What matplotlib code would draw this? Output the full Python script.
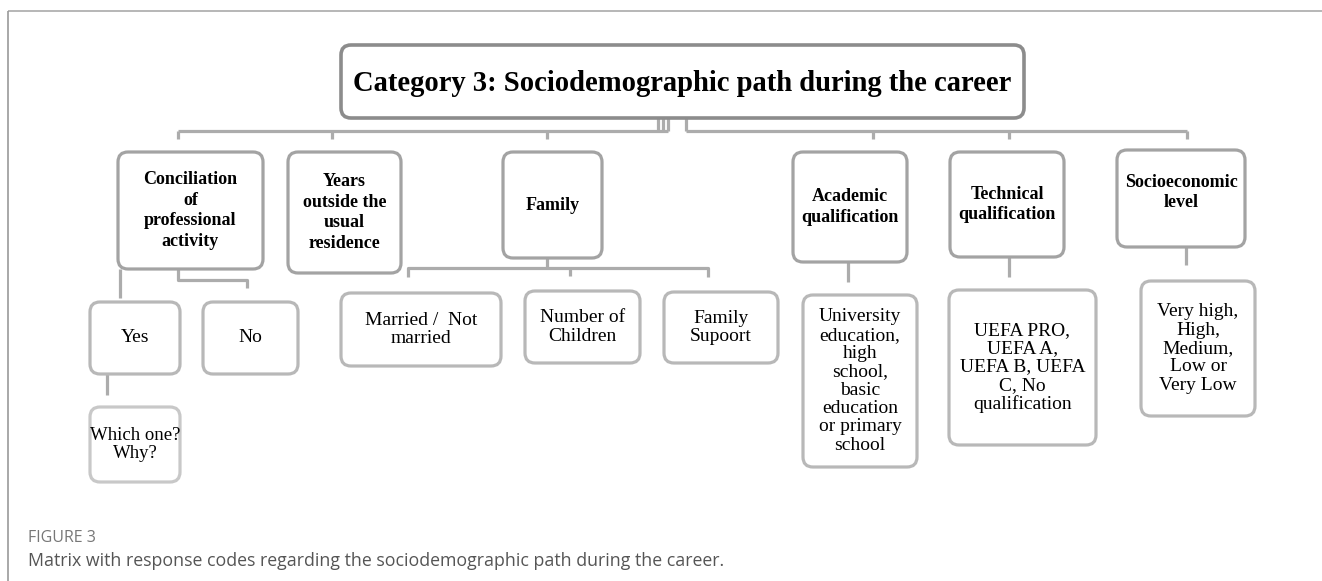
import matplotlib
matplotlib.use("Agg")
import matplotlib.pyplot as plt
from matplotlib.patches import FancyBboxPatch

# --- text content ---
title = "Category 3: Sociodemographic path during the career"
level1 = ["Conciliation\nof\nprofessional\nactivity", "Years\noutside the\nusual\nresidence", "Family",
          "Academic\nqualification", "Technical\nqualification", "Socioeconomic\nlevel"]
level2 = ["Yes", "No", "Married /  Not\nmarried", "Number of\nChildren", "Family\nSupoort",
          "University\neducation,\nhigh\nschool,\nbasic\neducation\nor primary\nschool",
          "UEFA PRO,\nUEFA A,\nUEFA B, UEFA\nC, No\nqualification",
          "Very high,\nHigh,\nMedium,\nLow or\nVery Low"]
level3 = ["Which one?\nWhy?"]
caption_head = "FIGURE 3"
caption = "Matrix with response codes regarding the sociodemographic path during the career."

# --- layout in pixels: (x0, x1, y0, y1), y grows downward ---
TITLE_BOX = (341, 1024, 45, 118)
BOX1 = [(118, 263, 152, 269), (288, 401, 152, 273), (503, 602, 152, 258),
        (793, 907, 152, 262), (950, 1064, 152, 257), (1117, 1245, 150, 247)]
BOX2 = [(90, 180, 302, 374), (203, 298, 302, 374), (341, 501, 293, 366), (525, 640, 291, 363),
        (664, 778, 292, 363), (803, 917, 295, 467), (949, 1096, 290, 445), (1141, 1255, 281, 416)]
BOX3 = [(90, 180, 407, 482)]
# connector polylines (pixels)
LINES = [
    [(178, 131), (668, 131)], [(686, 131), (1187, 131)],
    [(658, 112), (658, 131)], [(663, 112), (663, 131)], [(668, 112), (668, 131)], [(686, 112), (686, 131)],
    [(178, 131), (178, 139)], [(332, 131), (332, 139)], [(547, 131), (547, 139)],
    [(873, 131), (873, 139)], [(1009, 131), (1009, 139)], [(1187, 131), (1187, 139)],
    [(178, 269), (178, 280), (247, 280), (247, 288)],
    [(120, 269), (120, 298)],
    [(107, 363), (107, 395)],
    [(547, 258), (547, 268)], [(408, 277), (408, 268), (708, 268), (708, 277)], [(570, 268), (570, 276)],
    [(848, 262), (848, 282)],
    [(1009, 257), (1009, 277)],
    [(1186, 237), (1186, 265)],
]

W, H = 1322, 581
fig = plt.figure(figsize=(W / 100, H / 100), dpi=100)
ax = fig.add_axes([0, 0, 1, 1])
ax.set_xlim(0, W); ax.set_ylim(H, 0); ax.axis("off")

SERIF = ["Liberation Serif", "DejaVu Serif"]


def box(b, ec, lw=2.3, r=10):
    x0, x1, y0, y1 = b
    ax.add_patch(FancyBboxPatch((x0, y0), x1 - x0, y1 - y0, boxstyle=f"round,pad=0,rounding_size={r}",
                                fc="white", ec=ec, lw=lw, zorder=3))


# frame of the figure panel
ax.plot([8, W], [11, 11], color="#aaaaaa", lw=1.2, solid_capstyle="butt")
ax.plot([8, 8], [11, H], color="#999999", lw=1.2, solid_capstyle="butt")

for seg in LINES:
    xs, ys = zip(*seg)
    ax.plot(xs, ys, color="#acacac", lw=2.3, solid_capstyle="butt", zorder=2)

box(TITLE_BOX, "#8c8c8c", lw=2.6)
x0, x1, y0, y1 = TITLE_BOX
ax.text((x0 + x1) / 2, (y0 + y1) / 2 + 2, title, ha="center", va="center", fontsize=20.6,
        fontweight="bold", family=SERIF, color="black", zorder=4)

for b, t in zip(BOX1, level1):
    box(b, "#a3a3a3")
    x0, x1, y0, y1 = b
    ax.text((x0 + x1) / 2, (y0 + y1) / 2 - (6 if t.startswith("Socio") else 0), t, ha="center",
            va="center", fontsize=13, fontweight="bold", family=SERIF, linespacing=1.28, zorder=4)

for b, t in zip(BOX2, level2):
    box(b, "#b8b8b8")
    x0, x1, y0, y1 = b
    ax.text((x0 + x1) / 2, (y0 + y1) / 2, t, ha="center", va="center", fontsize=14,
            family=SERIF, linespacing=1.1, zorder=4)

for b, t in zip(BOX3, level3):
    box(b, "#c8c8c8")
    x0, x1, y0, y1 = b
    ax.text((x0 + x1) / 2, (y0 + y1) / 2, t, ha="center", va="center", fontsize=13.5,
            family=SERIF, linespacing=1.15, zorder=4)

ax.text(28, 538, caption_head, ha="left", va="center", fontsize=11.5, family="Open Sans", color="#777777")
ax.text(28, 561, caption, ha="left", va="center", fontsize=12.8, family="Open Sans", color="#555555")

fig.savefig("out.png", dpi=100)
